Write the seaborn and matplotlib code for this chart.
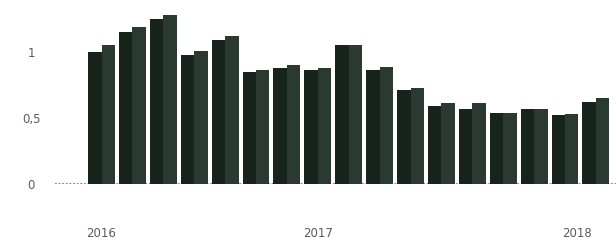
import matplotlib
matplotlib.use("Agg")
import matplotlib.pyplot as plt
import pandas as pd
import seaborn as sns


# values, two bars per period
periods = [f"P{i:02d}" for i in range(1, 18)]
series_a = [1.00, 1.15, 1.25, 0.98, 1.09, 0.85, 0.88, 0.86, 1.05, 0.86, 0.71, 0.59, 0.57, 0.54, 0.57, 0.52, 0.62]
series_b = [1.05, 1.19, 1.28, 1.01, 1.12, 0.86, 0.90, 0.88, 1.05, 0.89, 0.73, 0.61, 0.61, 0.54, 0.57, 0.53, 0.65]
series_names = ["A", "B"]

year_labels = ["2016", "2017", "2018"]
year_positions = [0, 7, 15.4]
y_ticks = [0, 0.5, 1]
y_tick_labels = ["0", "0,5", "1"]

COLORS = ["#16241c", "#2a3a31"]


def build_frame() -> pd.DataFrame:
    rows = []
    for p, a, b in zip(periods, series_a, series_b):
        rows.append({"period": p, "series": series_names[0], "value": a})
        rows.append({"period": p, "series": series_names[1], "value": b})
    return pd.DataFrame(rows)


def main() -> None:
    df = build_frame()

    fig = plt.figure(figsize=(6.16, 2.41), dpi=100)
    ax = fig.add_axes([55 / 616, 57 / 241, 561 / 616, 184 / 241])

    sns.barplot(
        data=df, x="period", y="value", hue="series",
        palette=COLORS, width=0.87, saturation=1, legend=False,
        linewidth=0, ax=ax, zorder=2,
    )

    # dotted baseline, sits under the bars
    ax.axhline(0, color="#7a7a7a", linestyle=(0, (1, 1)), linewidth=1.3, zorder=1)

    ax.set_xlim(-1.505, 16.65)
    ax.set_ylim(0, 1.394)

    ax.set_yticks(y_ticks)
    ax.set_yticklabels(y_tick_labels)
    ax.set_xticks(year_positions)
    ax.set_xticklabels(year_labels)
    ax.tick_params(axis="y", length=0, pad=17, labelsize=8.5, labelcolor="#5a5a5a")
    ax.tick_params(axis="x", length=0, pad=31, labelsize=8.5, labelcolor="#5a5a5a")
    for lab in ax.get_yticklabels():
        lab.set_ha("center")

    ax.set_xlabel("")
    ax.set_ylabel("")
    for spine in ax.spines.values():
        spine.set_visible(False)

    fig.savefig("out.png", dpi=100)
    plt.close(fig)


if __name__ == "__main__":
    main()
